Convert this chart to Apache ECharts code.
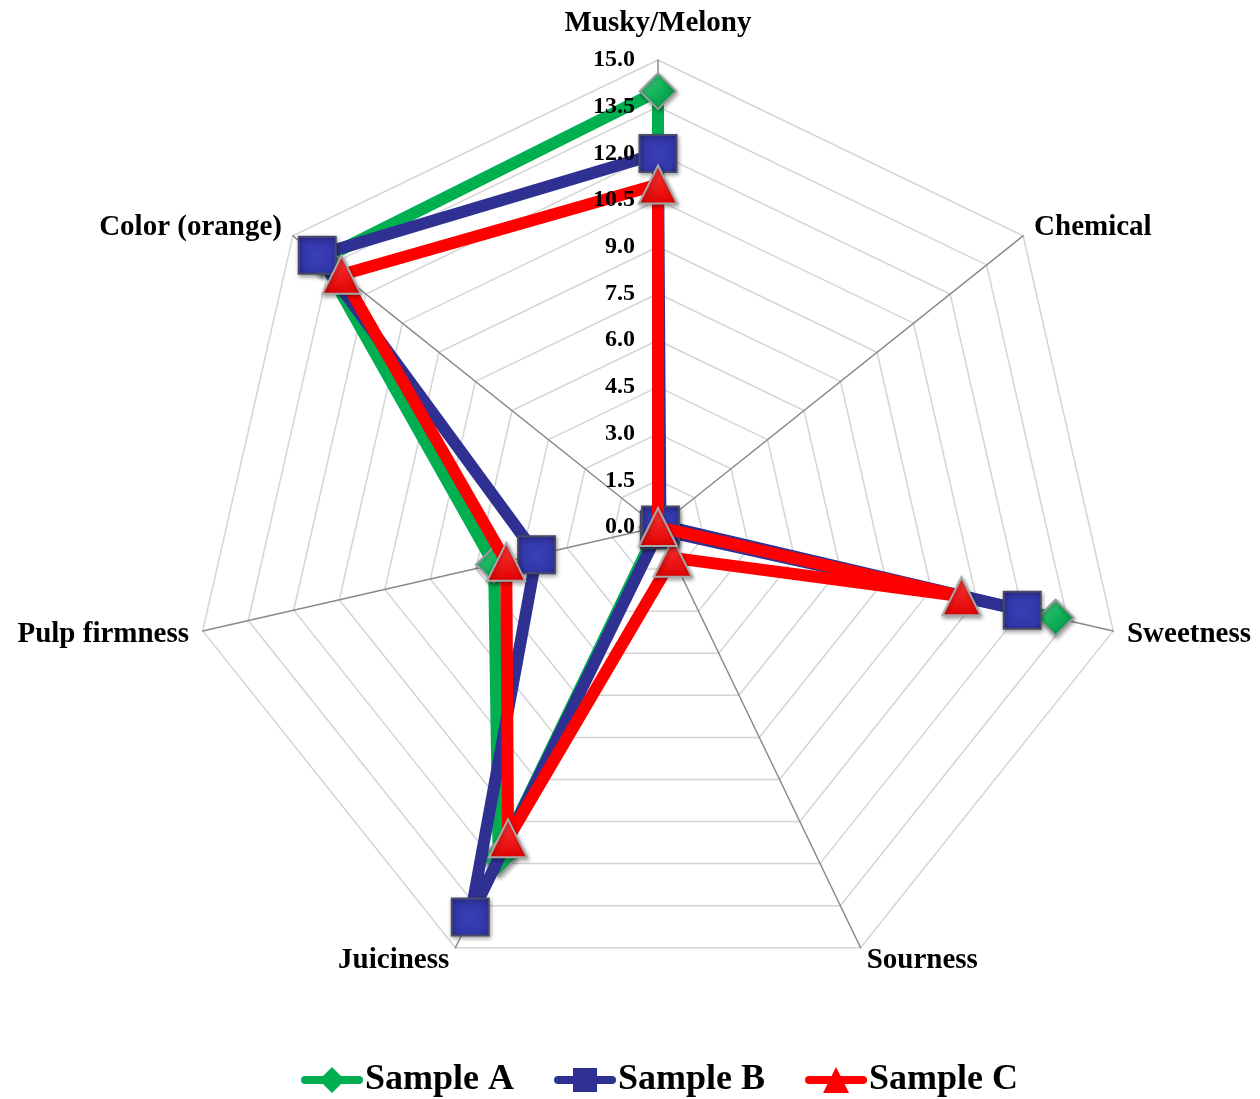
<!DOCTYPE html>
<html>
<head>
<meta charset="utf-8">
<script src="https://cdn.jsdelivr.net/npm/echarts@6/dist/echarts.min.js"></script>
<style>
  html, body { margin: 0; padding: 0; background: #ffffff; }
  #chart { width: 1260px; height: 1099px; }
</style>
</head>
<body>
<div id="chart"></div>
<script>
// Sensory attributes, listed clockwise from the top axis
const attributes = ['Musky/Melony', 'Chemical', 'Sweetness', 'Sourness', 'Juiciness', 'Pulp firmness', 'Color (orange)'];
// Panel scores per attribute (same order as attributes)
const sampleA = [14.0, 0.0, 13.1, 0.0, 11.8, 5.4, 13.8];
const sampleB = [12.0, 0.1, 12.0, 0.1, 13.9, 4.0, 14.0];
const sampleC = [11.0, 0.0, 10.0, 1.1, 11.1, 5.0, 13.0];
const seriesNames = ['Sample A', 'Sample B', 'Sample C'];
// Scale: 0.0 to 15.0 in steps of 1.5
const scaleMin = 0;
const scaleMax = 15;
const scaleStep = 1.5;

const serifFont = "'Liberation Serif', 'Times New Roman', 'DejaVu Serif', serif";
const chartCenter = [658, 527];
const chartRadius = 467;

// ECharts places radar indicators counter-clockwise; flip the order so they run clockwise
const cw = arr => [arr[0]].concat(arr.slice(1).reverse());

const baseIndicators = cw(attributes).map(name => ({ name: name, min: scaleMin, max: scaleMax }));

// Label overlay: only the top axis carries the value labels
const labelIndicators = baseIndicators.map((ind, i) => {
  const copy = Object.assign({}, ind);
  if (i === 0) {
    copy.axisLabel = {
      show: true,
      color: '#000',
      fontFamily: serifFont,
      fontWeight: 'bold',
      fontSize: 24,
      margin: 23,
      formatter: v => Number(v).toFixed(1)
    };
  }
  return copy;
});

const G = echarts.graphic;
const markerStyles = [
  { // Sample A: green diamond
    color: '#00B050',
    symbol: 'diamond',
    size: 36,
    fill: new G.LinearGradient(0, 0, 1, 1, [
      { offset: 0, color: '#5fd690' }, { offset: 0.5, color: '#10b25a' }, { offset: 1, color: '#058a42' }
    ]),
    border: '#9c9c9c'
  },
  { // Sample B: blue square
    color: '#2E3192',
    symbol: 'rect',
    size: 37,
    fill: new G.RadialGradient(0.5, 0.5, 0.75, [
      { offset: 0, color: '#3a3fb8' }, { offset: 0.7, color: '#3035a6' }, { offset: 1, color: '#1c1f6e' }
    ]),
    border: '#4a4a6a'
  },
  { // Sample C: red triangle
    color: '#FF0000',
    symbol: 'triangle',
    size: 38,
    fill: new G.LinearGradient(0, 0, 0, 1, [
      { offset: 0, color: '#ff3a3a' }, { offset: 1, color: '#e00000' }
    ]),
    border: '#a8a8a8'
  }
];

// Legend glyphs: a rounded bar with the series marker in the middle
const legendIcons = [
  'path://M4,11 L22,11 L31,2 L40,11 L58,11 A4,4 0 0 1 58,19 L40,19 L31,28 L22,19 L4,19 A4,4 0 0 1 4,11 Z',
  'path://M4,11 L19,11 L19,3 L43,3 L43,11 L58,11 A4,4 0 0 1 58,19 L43,19 L43,27 L19,27 L19,19 L4,19 A4,4 0 0 1 4,11 Z',
  'path://M4,11 L26.5,11 L31,2 L35.5,11 L58,11 A4,4 0 0 1 58,19 L39.5,19 L44,28 L18,28 L22.5,19 L4,19 A4,4 0 0 1 4,11 Z'
];

const dataSets = [sampleA, sampleB, sampleC];

const series = dataSets.map((vals, i) => ({
  type: 'radar',
  name: seriesNames[i],
  radarIndex: 0,
  z: 2 + i,
  symbol: markerStyles[i].symbol,
  symbolSize: markerStyles[i].size,
  lineStyle: { color: markerStyles[i].color, width: 12, join: 'round' },
  itemStyle: {
    color: markerStyles[i].fill,
    borderColor: markerStyles[i].border,
    borderWidth: 2,
    shadowBlur: 4,
    shadowOffsetX: 1,
    shadowOffsetY: 2,
    shadowColor: 'rgba(0,0,0,0.35)'
  },
  emphasis: { disabled: true },
  data: [{ name: seriesNames[i], value: cw(vals) }]
}));

const chart = echarts.init(document.getElementById('chart'), null, { renderer: 'canvas' });
chart.setOption({
  backgroundColor: '#ffffff',
  animation: false,
  legend: {
    bottom: 1,
    left: 301,
    padding: 0,
    itemWidth: 62,
    itemHeight: 30,
    itemGap: 40,
    textStyle: { color: '#000', fontFamily: serifFont, fontWeight: 'bold', fontSize: 36, padding: [0, 0, 0, -3] },
    data: seriesNames.map((n, i) => ({
      name: n,
      icon: legendIcons[i],
      itemStyle: { color: markerStyles[i].color, borderWidth: 0 }
    }))
  },
  radar: [
    {
      // web: grid rings, spokes and attribute names
      center: chartCenter,
      radius: chartRadius,
      startAngle: 90,
      shape: 'polygon',
      splitNumber: (scaleMax - scaleMin) / scaleStep,
      nameGap: 14,
      axisName: {
        color: '#000',
        fontFamily: serifFont,
        fontWeight: 'bold',
        fontSize: 29,
        // the top attribute sits a little higher above its axis end
        formatter: name => name === attributes[0] ? '{top|' + name + '}' : name,
        rich: {
          top: {
            color: '#000',
            fontFamily: serifFont,
            fontWeight: 'bold',
            fontSize: 29,
            padding: [0, 0, 8, 0]
          }
        }
      },
      axisLine: { lineStyle: { color: '#8a8a8a', width: 1.5 } },
      axisTick: { show: false },
      axisLabel: { show: false },
      splitLine: { lineStyle: { color: '#d4d4d4', width: 1.5 } },
      splitArea: { show: false },
      indicator: baseIndicators
    },
    {
      // value labels drawn above the data lines
      z: 10,
      center: chartCenter,
      radius: chartRadius,
      startAngle: 90,
      shape: 'polygon',
      splitNumber: (scaleMax - scaleMin) / scaleStep,
      axisName: { show: false },
      axisLine: { show: false },
      axisTick: { show: false },
      axisLabel: { show: false },
      splitLine: { show: false },
      splitArea: { show: false },
      indicator: labelIndicators
    }
  ],
  series: series
});
</script>
</body>
</html>
